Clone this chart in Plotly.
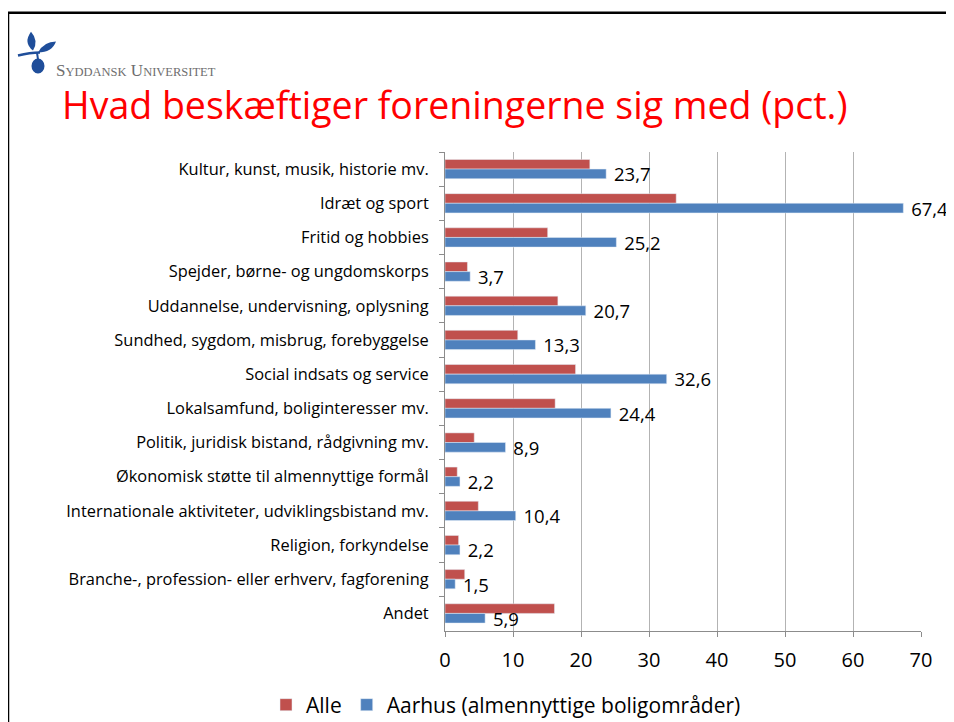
import plotly.graph_objects as go

categories = [
    "Kultur, kunst, musik, historie mv.",
    "Idræt og sport",
    "Fritid og hobbies",
    "Spejder, børne- og ungdomskorps",
    "Uddannelse, undervisning, oplysning",
    "Sundhed, sygdom, misbrug, forebyggelse",
    "Social indsats og service",
    "Lokalsamfund, boliginteresser mv.",
    "Politik, juridisk bistand, rådgivning mv.",
    "Økonomisk støtte til almennyttige formål",
    "Internationale aktiviteter, udviklingsbistand mv.",
    "Religion, forkyndelse",
    "Branche-, profession- eller erhverv, fagforening",
    "Andet",
]
alle = [21.3, 34.0, 15.1, 3.3, 16.6, 10.7, 19.2, 16.2, 4.3, 1.8, 4.9, 2.0, 2.9, 16.1]
aarhus = [23.7, 67.4, 25.2, 3.7, 20.7, 13.3, 32.6, 24.4, 8.9, 2.2, 10.4, 2.2, 1.5, 5.9]
x_ticks = [0, 10, 20, 30, 40, 50, 60, 70]
title_text = "Hvad beskæftiger foreningerne sig med (pct.)"
series_names = ["Alle", "Aarhus (almennyttige boligområder)"]

# page body has an 8px margin: figure pixel = screen pixel - 8
OFF = 8
W, H = 954, 722
L, T = 445 - OFF, 152 - OFF
PW, PH = 476, 481
R, B = W - L - PW, H - T - PH


def px(x):
    return (x - OFF - L) / PW


def py(y):
    return (T + PH - (y - OFF)) / PH


def path(points_cmd):
    out = []
    for tok in points_cmd:
        if isinstance(tok, str):
            out.append(tok)
        else:
            out.append(f"{px(tok[0]):.5f},{py(tok[1]):.5f}")
    return " ".join(out)


FONT = "Open Sans"
fig = go.Figure()
fig.add_trace(go.Bar(
    y=categories, x=alle, name=series_names[0], orientation="h",
    marker=dict(color="#C0504D"),
))
fig.add_trace(go.Bar(
    y=categories, x=aarhus, name=series_names[1], orientation="h",
    marker=dict(color="#4F81BD"),
    texttemplate="\u00a0%{x:.1f}", textposition="outside",
    textfont=dict(size=18.5, color="#000000", family=FONT),
    constraintext="none", cliponaxis=False,
))

navy = "#1F4E9A"
shapes = [
    # slide border
    dict(type="line", xref="paper", yref="paper", x0=px(8), x1=px(962), y0=py(12), y1=py(12),
         line=dict(color="#000000", width=2.5)),
    dict(type="line", xref="paper", yref="paper", x0=px(8), x1=px(8), y0=py(12), y1=py(740),
         line=dict(color="#000000", width=2.5)),
    # logo leaves
    dict(type="path", xref="paper", yref="paper",
         path=path(["M", (33, 50), "Q", (23, 42), (31, 31), "Q", (39, 40), (33, 50), "Z"]),
         fillcolor=navy, line=dict(width=0)),
    dict(type="path", xref="paper", yref="paper",
         path=path(["M", (38, 52), "Q", (44, 41), (56, 41), "Q", (52, 52), (38, 52), "Z"]),
         fillcolor=navy, line=dict(width=0)),
    dict(type="path", xref="paper", yref="paper",
         path=path(["M", (18, 55), "Q", (30, 52), (40, 52)]),
         line=dict(color=navy, width=2.5)),
    dict(type="line", xref="paper", yref="paper", x0=px(37), x1=px(38), y0=py(52), y1=py(59),
         line=dict(color=navy, width=2)),
    dict(type="circle", xref="paper", yref="paper", x0=px(31.5), x1=px(44.5), y0=py(58), y1=py(73),
         fillcolor=navy, line=dict(width=0)),
]

annotations = [
    dict(x=px(54), y=py(70), xref="paper", yref="paper", xanchor="left", yanchor="middle",
         showarrow=False,
         text="S<span style='font-size:12.5px'>YDDANSK</span> U<span style='font-size:12.5px'>NIVERSITET</span>",
         font=dict(family="Liberation Serif", size=17, color="#6E6E6E")),
    dict(x=px(60), y=py(104), xref="paper", yref="paper", xanchor="left", yanchor="middle",
         showarrow=False, text=title_text,
         font=dict(family=FONT, size=37.5, color="#FF0000")),
]

fig.update_layout(
    width=W, height=H,
    margin=dict(l=L, r=R, t=T, b=B, pad=0),
    paper_bgcolor="white", plot_bgcolor="white",
    barmode="group", bargap=0.436, bargroupgap=0,
    separators=",.",
    font=dict(family=FONT, color="#000000"),
    showlegend=True,
    legend=dict(orientation="h", xref="container", yref="container",
                x=(506 - OFF) / W, y=1 - (705 - OFF) / H, xanchor="center", yanchor="middle",
                font=dict(size=21, family=FONT), traceorder="normal", itemwidth=30),
    shapes=shapes, annotations=annotations,
    xaxis=dict(range=[0, 70], tickvals=x_ticks, showgrid=True, gridcolor="#B3B3B3", gridwidth=1,
               showline=True, linecolor="#8C8C8C", linewidth=1, ticks="outside", ticklen=5,
               tickcolor="#8C8C8C", tickfont=dict(size=20, family=FONT), zeroline=False,
               fixedrange=True, ticklabelstandoff=6),
    yaxis=dict(autorange="reversed", showline=True, linecolor="#8C8C8C", linewidth=1,
               ticks="outside", ticklen=5, tickcolor="#8C8C8C", tickson="boundaries",
               tickfont=dict(size=16.4, family=FONT), showgrid=False, ticklabelstandoff=12),
)

fig.write_html("out.html")
